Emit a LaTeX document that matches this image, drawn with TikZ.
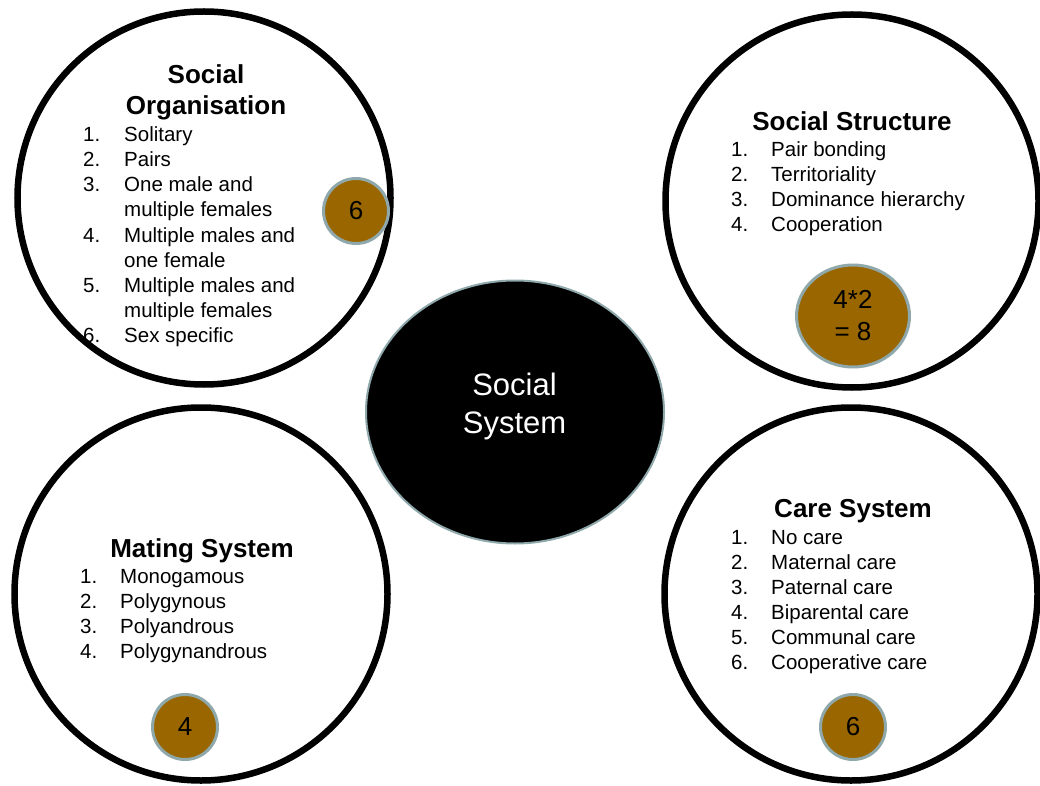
\documentclass[tikz,border=0pt]{standalone}
\usepackage{fontspec}
\setmainfont{Liberation Sans}
\usetikzlibrary{shapes.geometric}
\definecolor{brownfill}{RGB}{153,102,0}
\definecolor{rimgray}{RGB}{143,168,172}
\tikzset{
  bigc/.style={circle, draw=black, line width=6.5pt, fill=white, minimum size=373pt, inner sep=0pt},
  core/.style={ellipse, draw=rimgray, line width=2pt, fill=black, minimum width=298pt, minimum height=263pt, inner sep=0pt},
  badge/.style={circle, draw=rimgray, line width=3pt, fill=brownfill, minimum size=65pt, inner sep=0pt,
                font=\fontsize{26}{32}\selectfont, text=black},
  badgeoval/.style={ellipse, draw=rimgray, line width=3pt, fill=brownfill, minimum width=113pt, minimum height=102pt, inner sep=0pt,
                font=\fontsize{26}{32}\selectfont, text=black, align=center},
  head/.style={anchor=base, inner sep=0pt, font=\fontsize{26}{31}\selectfont\bfseries},
  itm/.style={anchor=base west, inner sep=0pt, font=\fontsize{20.5}{25}\selectfont},
  centre/.style={anchor=base, inner sep=0pt, text=white, font=\fontsize{31}{38}\selectfont},
}
\begin{document}
\begin{tikzpicture}[x=1pt,y=-1pt]
\useasboundingbox (0,0) rectangle (1040,786);
% big circles
\node[bigc] (so) at (204,198) {};
\node[bigc] (st) at (852,201) {};
\node[bigc] (ms) at (201,594) {};
\node[bigc] (cs) at (851,594) {};
% central ellipse
\node[core] (sys) at (515,412) {};
\node[centre] (sysa) at (514.5,395) {Social};
\node[centre] (sysb) at (514.5,433) {System};
% badges
\node[badge] (b1) at (356,211) {6};
\node[badgeoval] (b2) at (853,316) {4*2\\= 8};
\node[badge] (b3) at (185,727) {4};
\node[badge] (b4) at (853,727) {6};
% Social Organisation
\node[head] (h1a) at (206,84) {Social};
\node[head] (h1b) at (206,115) {Organisation};
\foreach \yy/\nn/\tt [count=\i] in {142/1./Solitary, 167/2./Pairs, 192/3./One male and, 217//multiple females,
   242/4./Multiple males and, 267//one female, 292/5./Multiple males and, 317//multiple females, 342/6./Sex specific}{
  \node[itm] (soN\i) at (83,\yy) {\nn};
  \node[itm] (soT\i) at (124,\yy) {\tt};
}
% Social Structure
\node[head] (h2) at (852,131) {Social Structure};
\foreach \yy/\nn/\tt [count=\i] in {157/1./Pair bonding, 182/2./Territoriality, 207/3./Dominance hierarchy, 232/4./Cooperation}{
  \node[itm] (stN\i) at (731,\yy) {\nn};
  \node[itm] (stT\i) at (771,\yy) {\tt};
}
% Mating System
\node[head] (h3) at (202,557) {Mating System};
\foreach \yy/\nn/\tt [count=\i] in {583/1./Monogamous, 608/2./Polygynous, 633/3./Polyandrous, 658/4./Polygynandrous}{
  \node[itm] (msN\i) at (80,\yy) {\nn};
  \node[itm] (msT\i) at (120,\yy) {\tt};
}
% Care System
\node[head] (h4) at (853,517) {Care System};
\foreach \yy/\nn/\tt [count=\i] in {544/1./No care, 569/2./Maternal care, 594/3./Paternal care, 619/4./Biparental care, 644/5./Communal care, 669/6./Cooperative care}{
  \node[itm] (csN\i) at (731,\yy) {\nn};
  \node[itm] (csT\i) at (771,\yy) {\tt};
}
\end{tikzpicture}
\end{document}
